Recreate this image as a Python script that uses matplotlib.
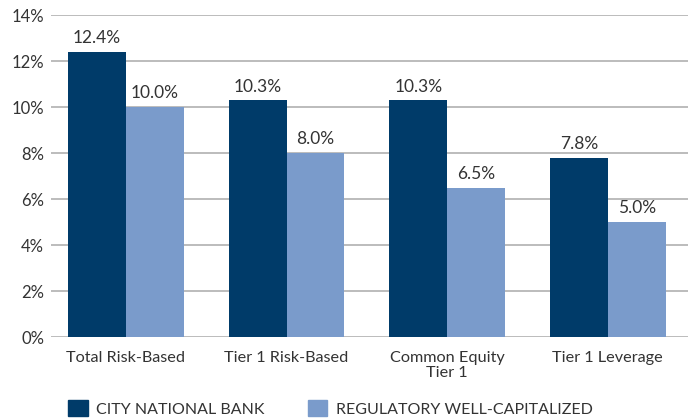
import matplotlib.pyplot as plt
from matplotlib.patches import Patch
import numpy as np

plt.rcParams['font.family'] = ['Lato', 'DejaVu Sans']

categories = ["Total Risk-Based", "Tier 1 Risk-Based", "Common Equity\nTier 1", "Tier 1 Leverage"]
city_national = [12.4, 10.3, 10.3, 7.8]
well_capitalized = [10.0, 8.0, 6.5, 5.0]
series_names = ["CITY NATIONAL BANK", "REGULATORY WELL-CAPITALIZED"]

dark = "#003B69"
light = "#7A9BCB"
text_c = "#333333"

fig = plt.figure(figsize=(6.93, 4.19), dpi=100)
ax = fig.add_axes([51/693, 1-337/419, (688-51)/693, (337-15)/419])

x = np.arange(len(categories))
w = 0.36
b1 = ax.bar(x - w/2, city_national, w, color=dark, zorder=3)
b2 = ax.bar(x + w/2, well_capitalized, w, color=light, zorder=3)

for bars, vals in ((b1, city_national), (b2, well_capitalized)):
    for r, v in zip(bars, vals):
        ax.annotate(f"{v:.1f}%", (r.get_x() + r.get_width()/2, v),
                    xytext=(0, 4), textcoords="offset points",
                    ha="center", va="bottom", fontsize=12.5, color=text_c)

ax.set_xlim(-0.467, 3.5)
ax.set_ylim(0, 14)
ax.set_yticks(range(0, 15, 2))
ax.set_yticklabels([f"{t}%" for t in range(0, 15, 2)])
ax.set_xticks(x)
ax.set_xticklabels(categories)
ax.grid(axis="y", color="#aaaaaa", linewidth=1.1, zorder=0)
for s in ax.spines.values():
    s.set_visible(False)
ax.tick_params(axis="both", length=0, labelsize=12, colors=text_c)
ax.tick_params(axis="y", pad=5)
ax.tick_params(axis="x", pad=10)
for lbl in ax.get_xticklabels():
    lbl.set_fontsize(11.7)
    lbl.set_linespacing(1.1)

handles = [Patch(color=dark), Patch(color=light)]
fig.legend(handles, series_names, loc="lower left", bbox_to_anchor=(54/693, -12/419),
           ncol=2, frameon=False, fontsize=11.5, labelcolor=text_c,
           handlelength=1.2, handleheight=1.15, handletextpad=0.55, columnspacing=2.7)

fig.savefig("out.png", dpi=100)
